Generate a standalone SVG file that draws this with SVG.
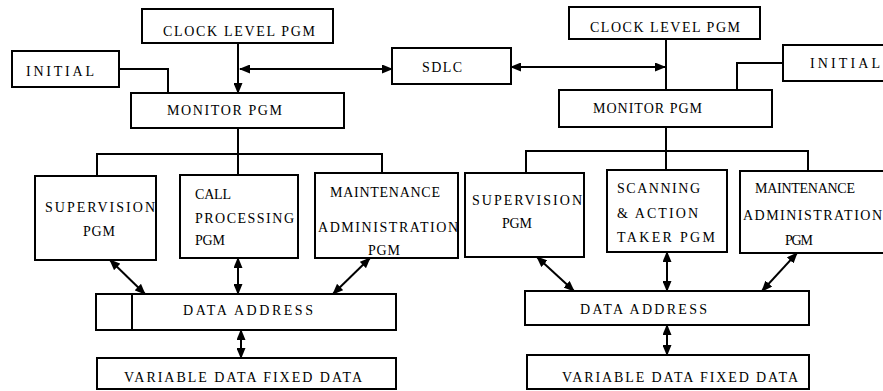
<svg xmlns="http://www.w3.org/2000/svg" width="883" height="391" viewBox="0 0 883 391">
<style>
  rect.b { fill: #fff; stroke: #000; stroke-width: 2; }
  text { font-family: "Liberation Serif", "DejaVu Serif", "Times New Roman", serif; font-size: 14px; fill: #000; }
  .c path, .c line, .c polyline { fill: none; stroke: #000; stroke-width: 2; }
</style>
<defs>
  <marker id="ah" markerUnits="userSpaceOnUse" markerWidth="11" markerHeight="9" refX="10" refY="4.5" orient="auto-start-reverse">
    <path d="M0,0 L11,4.5 L0,9 z" fill="#000"/>
  </marker>
</defs>
<rect width="883" height="391" fill="#fff"/>

<g class="c" id="connectors">
  <line x1="238" y1="43" x2="238" y2="93" marker-end="url(#ah)"/>
  <line x1="240" y1="69" x2="392" y2="69" marker-start="url(#ah)" marker-end="url(#ah)"/>
  <polyline points="119,69 168,69 168,93"/>
  <line x1="238" y1="128" x2="238" y2="154"/>
  <polyline points="97,176 97,154 382,154 382,173"/>
  <line x1="238" y1="154" x2="238" y2="175"/>
  <line x1="110" y1="260" x2="145" y2="294" marker-start="url(#ah)" marker-end="url(#ah)"/>
  <line x1="238" y1="258" x2="238" y2="294" marker-start="url(#ah)" marker-end="url(#ah)"/>
  <line x1="370" y1="258" x2="333" y2="294" marker-start="url(#ah)" marker-end="url(#ah)"/>
  <line x1="241" y1="330" x2="241" y2="358" marker-start="url(#ah)" marker-end="url(#ah)"/>
  <line x1="666" y1="39" x2="666" y2="90"/>
  <line x1="511" y1="67" x2="665" y2="67" marker-start="url(#ah)" marker-end="url(#ah)"/>
  <polyline points="783,63 737,63 737,90"/>
  <line x1="666" y1="127" x2="666" y2="151"/>
  <polyline points="526,173 526,151 808,151 808,171"/>
  <line x1="666" y1="151" x2="666" y2="170"/>
  <line x1="537" y1="257" x2="574" y2="291" marker-start="url(#ah)" marker-end="url(#ah)"/>
  <line x1="667" y1="252" x2="667" y2="291" marker-start="url(#ah)" marker-end="url(#ah)"/>
  <line x1="797" y1="253" x2="762" y2="291" marker-start="url(#ah)" marker-end="url(#ah)"/>
  <line x1="667" y1="325" x2="667" y2="355" marker-start="url(#ah)" marker-end="url(#ah)"/>
</g>

<g id="clock-left"><rect class="b" x="142" y="9" width="191" height="34"/><text x="163" y="36" textLength="152" lengthAdjust="spacing">CLOCK LEVEL PGM</text></g>
<g id="initial-left"><rect class="b" x="12" y="51" width="107" height="36"/><text x="26" y="76" textLength="68" lengthAdjust="spacing">INITIAL</text></g>
<g id="sdlc"><rect class="b" x="392" y="48" width="119" height="36"/><text x="422" y="72" textLength="40" lengthAdjust="spacing">SDLC</text></g>
<g id="monitor-left"><rect class="b" x="131" y="93" width="213" height="35"/><text x="167" y="115" textLength="115" lengthAdjust="spacing">MONITOR PGM</text></g>
<g id="supervision-left"><rect class="b" x="35" y="176" width="121" height="84"/><text x="45" y="212" textLength="110" lengthAdjust="spacing">SUPERVISION</text><text x="83" y="236" textLength="32" lengthAdjust="spacing">PGM</text></g>
<g id="call-processing"><rect class="b" x="180" y="175" width="118" height="83"/><text x="195" y="199" textLength="36" lengthAdjust="spacing">CALL</text><text x="195" y="223" textLength="99" lengthAdjust="spacing">PROCESSING</text><text x="195" y="245" textLength="30" lengthAdjust="spacing">PGM</text></g>
<g id="maintenance-left"><rect class="b" x="315" y="173" width="143" height="85"/><text x="330" y="197" textLength="110" lengthAdjust="spacing">MAINTENANCE</text><text x="318" y="232" textLength="140" lengthAdjust="spacing">ADMINISTRATION</text><text x="368" y="255" textLength="32" lengthAdjust="spacing">PGM</text></g>
<g id="data-address-left"><rect class="b" x="96" y="294" width="300" height="36"/><line x1="132" y1="294" x2="132" y2="330" stroke="#000" stroke-width="2"/><text x="183" y="315" textLength="130" lengthAdjust="spacing">DATA  ADDRESS</text></g>
<g id="data-left"><rect class="b" x="97" y="358" width="299" height="31"/><text x="124" y="382" textLength="238" lengthAdjust="spacing">VARIABLE DATA FIXED DATA</text></g>

<g id="clock-right"><rect class="b" x="569" y="7" width="191" height="32"/><text x="590" y="32" textLength="150" lengthAdjust="spacing">CLOCK LEVEL PGM</text></g>
<g id="initial-right"><rect class="b" x="783" y="45" width="105" height="36"/><text x="810" y="68" textLength="70" lengthAdjust="spacing">INITIAL</text></g>
<g id="monitor-right"><rect class="b" x="559" y="90" width="213" height="37"/><text x="593" y="113" textLength="109" lengthAdjust="spacing">MONITOR PGM</text></g>
<g id="supervision-right"><rect class="b" x="465" y="173" width="119" height="84"/><text x="472" y="205" textLength="110" lengthAdjust="spacing">SUPERVISION</text><text x="502" y="228" textLength="30" lengthAdjust="spacing">PGM</text></g>
<g id="scanning"><rect class="b" x="607" y="170" width="120" height="82"/><text x="617" y="193" textLength="83" lengthAdjust="spacing">SCANNING</text><text x="617" y="218" textLength="81" lengthAdjust="spacing">&amp; ACTION</text><text x="617" y="242" textLength="98" lengthAdjust="spacing">TAKER PGM</text></g>
<g id="maintenance-right"><rect class="b" x="740" y="171" width="150" height="82"/><text x="755" y="193" textLength="100" lengthAdjust="spacing">MAINTENANCE</text><text x="743" y="220" textLength="139" lengthAdjust="spacing">ADMINISTRATION</text><text x="785" y="245" textLength="28" lengthAdjust="spacing">PGM</text></g>
<g id="data-address-right"><rect class="b" x="525" y="291" width="284" height="34"/><text x="580" y="314" textLength="127" lengthAdjust="spacing">DATA  ADDRESS</text></g>
<g id="data-right"><rect class="b" x="527" y="355" width="282" height="34"/><text x="562" y="382" textLength="236" lengthAdjust="spacing">VARIABLE DATA FIXED DATA</text></g>
</svg>
